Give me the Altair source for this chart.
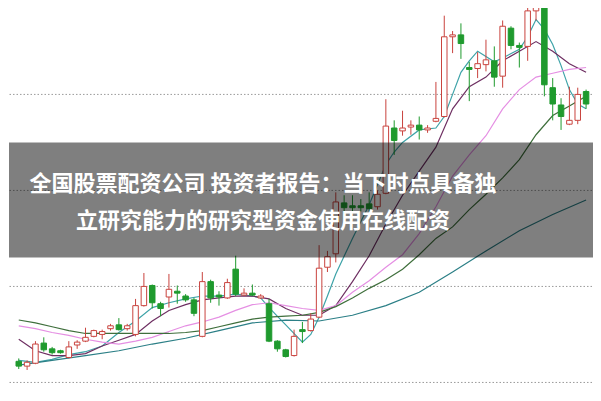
import altair as alt
import pandas as pd

# ---- candle data (price units) ----
opens  = [10.22,10.17,10.20,10.41,10.35,10.33,10.26,10.39,10.43,10.48,10.50,10.56,10.60,10.56,10.50,10.80,11.01,10.82,10.89,10.95,
          10.90,10.86,10.48,11.05,10.91,10.88,11.18,10.91,10.93,10.88,10.82,10.43,10.34,10.28,10.55,10.54,10.68,11.20,11.34,11.87,
          11.84,11.84,11.86,11.83,11.97,12.65,12.62,12.66,12.68,12.63,12.72,12.77,13.60,13.62,13.28,13.27,13.31,13.35,13.19,13.69,
          13.51,13.50,13.87,13.96,13.07,12.89,12.69,12.73,13.03]
closes = [10.17,10.21,10.40,10.34,10.31,10.31,10.37,10.42,10.47,10.54,10.53,10.59,10.55,10.59,10.80,11.00,10.83,10.77,10.97,10.93,
          10.86,10.72,11.05,10.88,10.89,11.04,10.92,10.93,10.91,10.90,10.43,10.35,10.27,10.48,10.53,10.66,11.19,11.31,11.88,11.82,
          11.82,11.82,11.81,11.96,12.67,12.52,12.65,12.68,12.63,12.65,12.75,13.60,13.62,13.53,13.26,13.32,13.36,13.18,13.71,13.51,
          13.49,13.87,13.96,13.10,12.90,12.77,12.73,13.00,12.90]
highs  = [10.25,10.23,10.43,10.47,10.37,10.34,10.43,10.44,10.57,10.55,10.55,10.61,10.67,10.61,10.87,11.14,11.02,10.84,11.13,11.01,
          10.92,10.88,11.15,11.07,10.95,11.08,11.32,10.98,11.02,10.92,10.87,10.44,10.35,10.55,10.63,10.72,11.43,11.37,11.98,11.95,
          11.95,11.91,11.98,12.00,12.95,12.73,12.83,12.73,12.77,12.68,13.13,13.82,13.66,13.74,13.34,13.44,13.57,13.50,13.77,13.71,
          13.54,13.98,14.00,14.00,13.17,12.96,13.08,13.07,13.05]
lows   = [10.14,10.13,10.19,10.32,10.29,10.30,10.25,10.35,10.42,10.47,10.45,10.54,10.54,10.54,10.48,10.79,10.77,10.69,10.78,10.82,
          10.84,10.69,10.47,10.83,10.80,10.87,10.90,10.90,10.90,10.87,10.42,10.32,10.26,10.27,10.41,10.53,10.67,11.15,11.25,11.75,
          11.78,11.78,11.78,11.80,11.96,12.37,12.57,12.58,12.53,12.60,12.71,12.76,13.43,13.37,12.93,13.17,13.24,13.08,13.07,13.47,
          13.28,13.35,13.77,12.98,12.73,12.63,12.68,12.69,12.85]

# ---- moving averages ----
ma5_idx = [0,2,4,6,8,10,12,14,16,18,20,22,24,26,28,29,30,32,34,35,36,37,38,40,42,44,45,46,48,50,51,52,53,54,55,57,58,60,61,62,63,64,65,66,67,68]
ma5_val = [10.23,10.21,10.24,10.29,10.32,10.38,10.52,10.64,10.78,10.83,10.87,10.90,10.90,10.92,10.90,10.88,10.78,10.60,10.42,10.50,
           10.68,10.90,11.13,11.50,11.85,12.27,12.40,12.50,12.63,12.65,12.77,13.00,13.23,13.35,13.45,13.34,13.38,13.47,13.60,13.78,
           13.68,13.52,13.30,13.05,12.90,12.85]
ma10_idx = [0,2,4,6,8,10,12,14,16,18,20,22,24,26,28,30,32,34,36,38,40,42,44,46,48,50,52,54,56,58,60,62,64,66,68]
ma10_val = [10.45,10.33,10.28,10.28,10.30,10.38,10.44,10.50,10.64,10.75,10.81,10.86,10.88,10.90,10.90,10.87,10.77,10.70,10.70,10.80,
            11.05,11.32,11.65,11.95,12.20,12.45,12.85,13.08,13.18,13.35,13.45,13.55,13.45,13.32,13.23]
ma20_idx = ma10_idx
ma20_val = [10.59,10.56,10.52,10.49,10.45,10.42,10.40,10.43,10.47,10.53,10.59,10.63,10.68,10.75,10.81,10.83,10.80,10.77,10.75,10.80,
            10.94,11.06,11.20,11.33,11.55,11.83,12.15,12.37,12.57,12.85,13.05,13.18,13.22,13.26,13.28]
ma30_idx = ma10_idx
ma30_val = [10.65,10.62,10.58,10.54,10.51,10.51,10.51,10.51,10.51,10.51,10.52,10.54,10.58,10.62,10.66,10.68,10.69,10.70,10.73,10.79,
            10.88,10.98,11.07,11.18,11.33,11.50,11.62,11.80,11.96,12.13,12.32,12.58,12.78,12.88,12.98]
ma60_idx = [0,4,8,12,16,20,24,28,32,36,40,44,48,52,56,60,64,68]
ma60_val = [10.18,10.23,10.28,10.33,10.40,10.46,10.54,10.62,10.65,10.64,10.70,10.80,10.94,11.15,11.37,11.58,11.75,11.90]

grid_levels = [10, 11, 12, 13]
title_lines = ["全国股票配资公司 投资者报告：当下时点具备独", "立研究能力的研究型资金使用在线配资"]

W, H = 585, 385
RED, GREEN = "#c9433e", "#1f9a2e"

candles = pd.DataFrame({
    "i": list(range(len(opens))),
    "open": opens, "close": closes, "high": highs, "low": lows,
})
candles["dir"] = ["up" if c >= o else "down" for o, c in zip(opens, closes)]

rows = []
for name, idx, val in [("MA5", ma5_idx, ma5_val), ("MA10", ma10_idx, ma10_val),
                       ("MA20", ma20_idx, ma20_val), ("MA30", ma30_idx, ma30_val),
                       ("MA60", ma60_idx, ma60_val)]:
    for a, b in zip(idx, val):
        rows.append({"ma": name, "i": a, "v": b})
lines = pd.DataFrame(rows)

xs = alt.Scale(domain=[-0.57, 68.11], nice=False, zero=False)
ys = alt.Scale(domain=[9.89, 13.90], nice=False, zero=False)

base = alt.Chart(candles)

grid = alt.Chart(pd.DataFrame({"g": grid_levels})).mark_rule(
    color="#9a9a9a", strokeDash=[1.5, 2], strokeWidth=1
).encode(y=alt.Y("g:Q", scale=ys, axis=None))

ma_lines = alt.Chart(lines).mark_line(strokeWidth=1.2, clip=True).encode(
    x=alt.X("i:Q", scale=xs, axis=None),
    y=alt.Y("v:Q", scale=ys, axis=None),
    color=alt.Color("ma:N", legend=None, scale=alt.Scale(
        domain=["MA5", "MA10", "MA20", "MA30", "MA60"],
        range=["#3ea3a8", "#6e2f62", "#e58fe3", "#3f6f3c", "#2b7f86"])),
    detail="ma:N",
)

color_enc = alt.Color("dir:N", legend=None,
                      scale=alt.Scale(domain=["up", "down"], range=[RED, GREEN]))

wicks = base.mark_rule(strokeWidth=1, clip=True).encode(
    x=alt.X("i:Q", scale=xs, axis=None),
    y=alt.Y("low:Q", scale=ys, axis=None),
    y2="high:Q",
    color=color_enc,
)

bodies = base.mark_bar(size=5.5, strokeWidth=1, clip=True).encode(
    x=alt.X("i:Q", scale=xs, axis=None),
    y=alt.Y("open:Q", scale=ys, axis=None),
    y2="close:Q",
    stroke=alt.Stroke("dir:N", legend=None,
                      scale=alt.Scale(domain=["up", "down"], range=[RED, GREEN])),
    fill=alt.Fill("dir:N", legend=None,
                  scale=alt.Scale(domain=["up", "down"], range=["#ffffff", GREEN])),
)

band = alt.Chart(pd.DataFrame({"k": [0]})).mark_rect(color="#000000", opacity=0.5).encode(
    x=alt.value(0), x2=alt.value(W), y=alt.value(134.4), y2=alt.value(249.6)
)

t1 = alt.Chart(pd.DataFrame({"t": [title_lines[0]]})).mark_text(
    font="Noto Sans CJK SC", fontWeight="bold", fontSize=22, color="#ffffff",
    align="center", baseline="middle"
).encode(text="t:N", x=alt.value(254), y=alt.value(175.5))

t2 = alt.Chart(pd.DataFrame({"t": [title_lines[1]]})).mark_text(
    font="Noto Sans CJK SC", fontWeight="bold", fontSize=22, color="#ffffff",
    align="center", baseline="middle"
).encode(text="t:N", x=alt.value(254), y=alt.value(213))

chart = alt.layer(grid, ma_lines, wicks, bodies, band, t1, t2).resolve_scale(
    color="independent"
).properties(
    width=W, height=H, padding=0,
    autosize=alt.AutoSizeParams(type="fit", contains="padding"),
).configure_view(stroke=None)

chart.save("out.html", embed_options={"renderer": "svg", "actions": False})
